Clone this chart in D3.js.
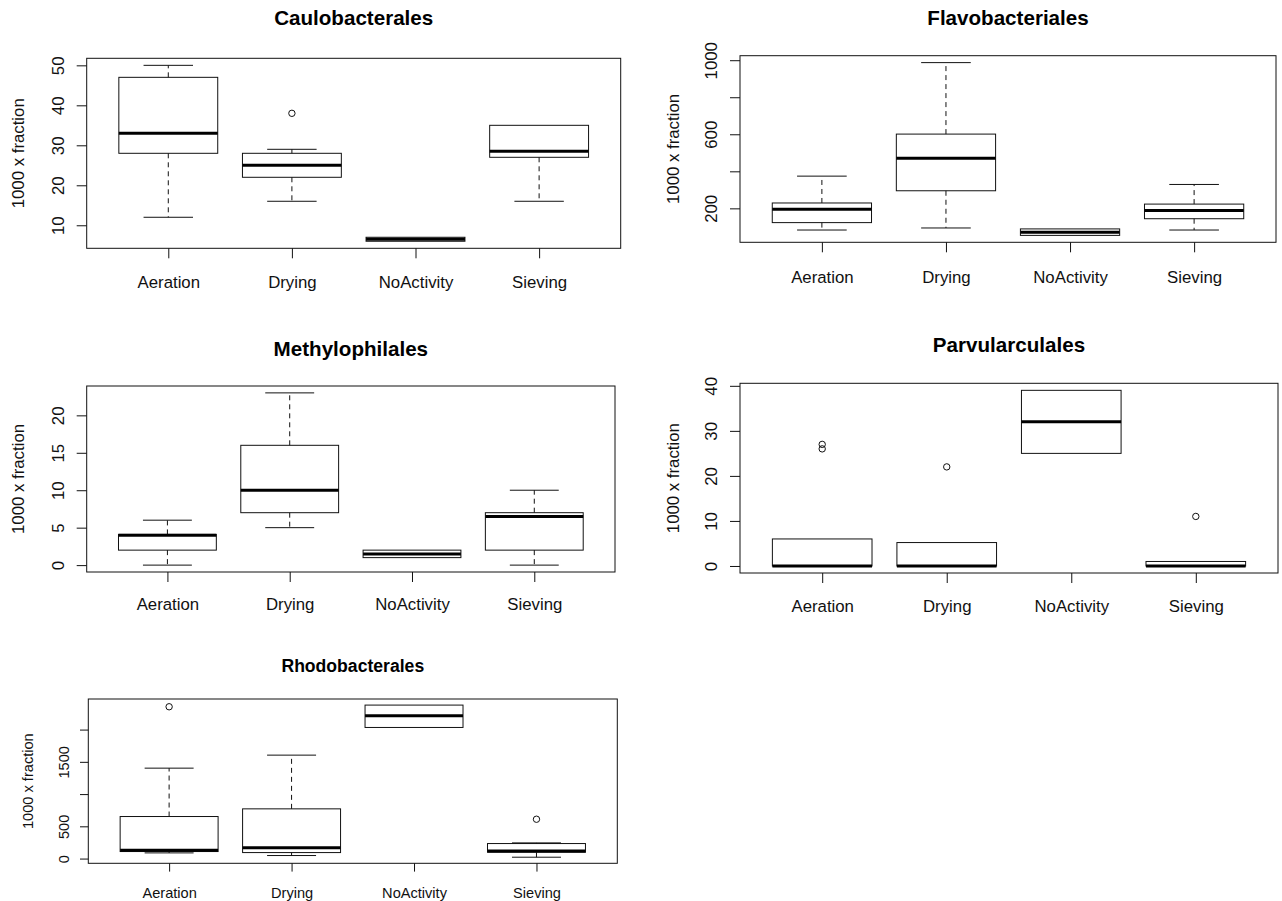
<!DOCTYPE html>
<html>
<head>
<meta charset="utf-8">
<script src="https://cdn.jsdelivr.net/npm/d3@7"></script>
<style>
  body { margin: 0; background: #ffffff; }
  svg { display: block; }
</style>
</head>
<body>
<svg id="chart" width="1282" height="901"></svg>
<script>
// Treatment groups shared by every panel
const groups = ["Aeration", "Drying", "NoActivity", "Sieving"];

// Five-number summaries per group: [lower whisker, Q1, median, Q3, upper whisker]
const caulobacteralesStats = [[12, 28, 33, 47, 50], [16, 22, 25, 28, 29], [6, 6, 6.5, 7, 7], [16, 27, 28.5, 35, 35]];
const caulobacteralesOutliers = [[], [38], [], []];
const caulobacteralesTicks = [10, 20, 30, 40, 50];
const caulobacteralesTickLabels = ["10", "20", "30", "40", "50"];

const flavobacterialesStats = [[83, 123, 195, 229, 374], [94, 295, 470, 601, 987], [54, 54, 71, 89, 89], [83, 144, 189, 223, 329]];
const flavobacterialesOutliers = [[], [], [], []];
const flavobacterialesTicks = [200, 400, 600, 800, 1000];
const flavobacterialesTickLabels = ["200", "", "600", "", "1000"];

const methylophilalesStats = [[0, 2, 4, 4.1, 6], [5, 7, 10, 16, 23], [1, 1, 1.5, 2, 2], [0, 2, 6.5, 7, 10]];
const methylophilalesOutliers = [[], [], [], []];
const methylophilalesTicks = [0, 5, 10, 15, 20];
const methylophilalesTickLabels = ["0", "5", "10", "15", "20"];

const parvularculalesStats = [[0, 0, 0, 6, 6], [0, 0, 0, 5.2, 5.2], [25, 25, 32, 39, 39], [0, 0, 0, 1, 1]];
const parvularculalesOutliers = [[26, 27], [22], [], [11]];
const parvularculalesTicks = [0, 10, 20, 30, 40];
const parvularculalesTickLabels = ["0", "10", "20", "30", "40"];

const rhodobacteralesStats = [[88, 109, 129, 652, 1402], [47, 93, 166, 771, 1604], [2033, 2033, 2214, 2380, 2380], [21, 98, 119, 233, 243]];
const rhodobacteralesOutliers = [[2354], [], [], [610]];
const rhodobacteralesTicks = [0, 500, 1000, 1500, 2000];
const rhodobacteralesTickLabels = ["0", "500", "", "1500", ""];

const yTitle = "1000 x fraction";

// Plot frames and text metrics for each panel
const panels = [
  { title: "Caulobacterales", stats: caulobacteralesStats, outliers: caulobacteralesOutliers,
    ticks: caulobacteralesTicks, tickLabels: caulobacteralesTickLabels,
    left: 86.7, right: 620.7, top: 58.3, bottom: 248.3,
    font: 16.8, titleFont: 20.6, tick: 10, yLabelOff: 28.4, xLabelBase: 40, titleBase: 25, yTitleX: 18.3 },
  { title: "Flavobacteriales", stats: flavobacterialesStats, outliers: flavobacterialesOutliers,
    ticks: flavobacterialesTicks, tickLabels: flavobacterialesTickLabels,
    left: 740, right: 1276, top: 55.7, bottom: 242.3,
    font: 16.8, titleFont: 20.6, tick: 10, yLabelOff: 28.4, xLabelBase: 40.4, titleBase: 24.5, yTitleX: 672.7 },
  { title: "Methylophilales", stats: methylophilalesStats, outliers: methylophilalesOutliers,
    ticks: methylophilalesTicks, tickLabels: methylophilalesTickLabels,
    left: 86.7, right: 615, top: 386, bottom: 572,
    font: 16.8, titleFont: 20.6, tick: 10, yLabelOff: 28.4, xLabelBase: 38, titleBase: 355.5, yTitleX: 18.3 },
  { title: "Parvularculales", stats: parvularculalesStats, outliers: parvularculalesOutliers,
    ticks: parvularculalesTicks, tickLabels: parvularculalesTickLabels,
    left: 740, right: 1278, top: 383.3, bottom: 573,
    font: 16.8, titleFont: 20.6, tick: 10, yLabelOff: 28.4, xLabelBase: 38.7, titleBase: 351.5, yTitleX: 672.8 },
  { title: "Rhodobacterales", stats: rhodobacteralesStats, outliers: rhodobacteralesOutliers,
    ticks: rhodobacteralesTicks, tickLabels: rhodobacteralesTickLabels,
    left: 88.3, right: 617.3, top: 699, bottom: 863.3,
    font: 14.6, titleFont: 17.6, tick: 8.3, yLabelOff: 24.5, xLabelBase: 34.4, titleBase: 671.5, yTitleX: 28.3 }
];

const FONT = '"Liberation Sans", Arial, Helvetica, sans-serif';
const INK = "#111";
const svg = d3.select("#chart");

panels.forEach(p => {
  const g = svg.append("g");

  // x: R-style positions 1..n inside [0.5, n+0.5] widened by 4%
  const n = groups.length;
  const x = d3.scaleLinear()
    .domain([0.5 - 0.04 * n, n + 0.5 + 0.04 * n])
    .range([p.left, p.right]);

  // y: data range (whiskers and outliers) widened by 4%
  const values = p.stats.flat().concat(p.outliers.flat());
  const [lo, hi] = d3.extent(values);
  const pad = (hi - lo) * 0.04;
  const y = d3.scaleLinear().domain([lo - pad, hi + pad]).range([p.bottom, p.top]);

  const halfBox = (x(1.4) - x(1));
  const halfCap = halfBox / 2;

  // Boxes
  p.stats.forEach((s, i) => {
    const cx = x(i + 1);
    const [wLo, q1, med, q3, wHi] = s;
    const bg = g.append("g");
    // dashed whiskers
    if (wHi > q3) {
      bg.append("line").attr("x1", cx).attr("x2", cx).attr("y1", y(q3)).attr("y2", y(wHi))
        .attr("stroke", INK).attr("stroke-width", 1).attr("stroke-dasharray", "5,4");
      bg.append("line").attr("x1", cx - halfCap).attr("x2", cx + halfCap).attr("y1", y(wHi)).attr("y2", y(wHi))
        .attr("stroke", INK).attr("stroke-width", 1);
    }
    if (wLo < q1) {
      bg.append("line").attr("x1", cx).attr("x2", cx).attr("y1", y(q1)).attr("y2", y(wLo))
        .attr("stroke", INK).attr("stroke-width", 1).attr("stroke-dasharray", "5,4");
      bg.append("line").attr("x1", cx - halfCap).attr("x2", cx + halfCap).attr("y1", y(wLo)).attr("y2", y(wLo))
        .attr("stroke", INK).attr("stroke-width", 1);
    }
    // box body
    bg.append("rect")
      .attr("x", cx - halfBox).attr("width", 2 * halfBox)
      .attr("y", y(q3)).attr("height", Math.max(0.01, y(q1) - y(q3)))
      .attr("fill", "none").attr("stroke", INK).attr("stroke-width", 1);
    // median
    bg.append("line").attr("x1", cx - halfBox).attr("x2", cx + halfBox).attr("y1", y(med)).attr("y2", y(med))
      .attr("stroke", "#000").attr("stroke-width", 3);
    // outliers
    p.outliers[i].forEach(v => {
      bg.append("circle").attr("cx", cx).attr("cy", y(v)).attr("r", 3.2)
        .attr("fill", "none").attr("stroke", INK).attr("stroke-width", 1);
    });
  });

  // Frame
  g.append("rect")
    .attr("x", p.left).attr("y", p.top)
    .attr("width", p.right - p.left).attr("height", p.bottom - p.top)
    .attr("fill", "none").attr("stroke", INK).attr("stroke-width", 1);

  // y axis
  const yAxis = g.append("g")
    .attr("transform", `translate(${p.left},0)`)
    .call(d3.axisLeft(y).tickValues(p.ticks).tickFormat((d, i) => p.tickLabels[i])
      .tickSize(p.tick).tickSizeOuter(0));
  yAxis.select(".domain").remove();
  yAxis.selectAll("line").attr("stroke", INK);
  yAxis.selectAll("text")
    .attr("x", null).attr("dy", "0.35em")
    .attr("text-anchor", "middle")
    .attr("transform", `translate(${-p.yLabelOff},0) rotate(-90)`)
    .attr("font-family", FONT).attr("font-size", p.font).attr("fill", INK);

  // x axis
  const xAxis = g.append("g")
    .attr("transform", `translate(0,${p.bottom})`)
    .call(d3.axisBottom(x).tickValues(d3.range(1, n + 1)).tickFormat((d, i) => groups[i])
      .tickSize(p.tick).tickSizeOuter(0));
  xAxis.select(".domain").remove();
  xAxis.selectAll("line").attr("stroke", INK);
  xAxis.selectAll("text")
    .attr("y", p.xLabelBase).attr("dy", null)
    .attr("font-family", FONT).attr("font-size", p.font).attr("fill", INK);

  // y axis title
  g.append("text")
    .attr("transform", `translate(${p.yTitleX},${(p.top + p.bottom) / 2}) rotate(-90)`)
    .attr("dy", "0.35em").attr("text-anchor", "middle")
    .attr("font-family", FONT).attr("font-size", p.font).attr("fill", INK)
    .text(yTitle);

  // panel title
  g.append("text")
    .attr("x", (p.left + p.right) / 2).attr("y", p.titleBase)
    .attr("text-anchor", "middle")
    .attr("font-family", FONT).attr("font-size", p.titleFont).attr("font-weight", "bold").attr("fill", "#000")
    .text(p.title);
});
</script>
</body>
</html>
